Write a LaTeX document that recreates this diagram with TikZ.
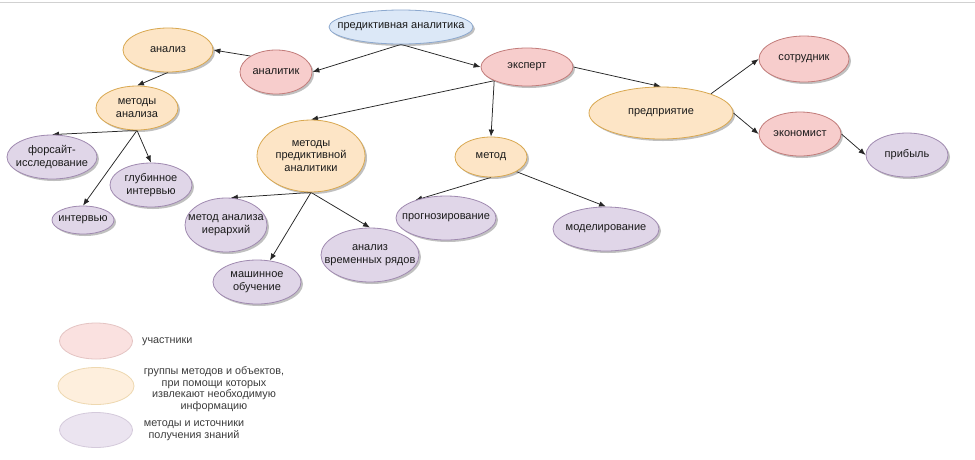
\documentclass[tikz,border=0pt]{standalone}
\usepackage{fontspec}
\setmainfont{Liberation Sans}
\usetikzlibrary{shapes.geometric,arrows.meta,shadows,backgrounds}
\definecolor{pkF}{HTML}{F7CDCC}
\definecolor{pkD}{HTML}{C27C7A}
\definecolor{orF}{HTML}{FDE5C6}
\definecolor{orD}{HTML}{D9A850}
\definecolor{puF}{HTML}{E0D6E8}
\definecolor{puD}{HTML}{A08AB0}
\definecolor{blF}{HTML}{DCE8F7}
\definecolor{blD}{HTML}{8DA9CF}
\definecolor{txt}{HTML}{1A1A1A}
\begin{document}
\begin{tikzpicture}[x=1pt,y=-1pt,
  base/.style={ellipse, draw, line width=0.8pt, inner xsep=-60pt, inner ysep=-30pt,
    align=center, text=txt, font=\fontsize{11}{12.5}\selectfont,
    drop shadow={shadow xshift=2pt, shadow yshift=-2pt, opacity=0.35, fill=black!70}},
  pk/.style={base, fill=pkF, draw=pkD},
  org/.style={base, fill=orF, draw=orD},
  pur/.style={base, fill=puF, draw=puD},
  blu/.style={base, fill=blF, draw=blD},
  sz/.style 2 args={minimum width=#1pt, minimum height=#2pt},
  lgd/.style={ellipse, line width=0.8pt, inner sep=0pt},
  lgtext/.style={text=txt!85, font=\fontsize{10.8}{11.6}\selectfont, align=center, inner sep=0pt},
  arr/.style={draw=black!85, line width=0.75pt, -{Latex[length=7pt,width=5.5pt]}}
]
\useasboundingbox (0,0) rectangle (975,459);

% nodes
\node[blu, sz={144}{34}] (pa) at (401,27) {предиктивная аналитика};
\node[org, sz={90}{44}] (analiz) at (168,50) {анализ};
\node[pk, sz={72}{44}] (analitik) at (276,72) {аналитик};
\node[pk, sz={92}{38}] (ekspert) at (527,67) {эксперт};
\node[org, sz={144}{52}] (pred) at (661,113) {предприятие};
\node[pk, sz={90}{46}] (sotr) at (804,59) {сотрудник};
\node[pk, sz={82}{44}] (ekon) at (800,134) {экономист};
\node[pur, sz={82}{44}] (prib) at (907,155) {прибыль};
\node[org, sz={82}{44}] (ma) at (137,108) {методы\\анализа};
\node[pur, sz={90}{44}] (fors) at (52,157) {форсайт-\\исследование};
\node[pur, sz={82}{44}] (glub) at (151,185) {глубинное\\интервью};
\node[pur, sz={62}{28}] (interv) at (83,220) {интервью};
\node[org, sz={108}{72}] (mpa) at (311,156) {методы\\предиктивной\\аналитики};
\node[org, sz={72}{40}] (metod) at (491,157) {метод};
\node[pur, sz={82}{54}] (mai) at (226,225) {метод анализа\\иерархий};
\node[pur, sz={88}{44}] (mash) at (257,282) {машинное\\обучение};
\node[pur, sz={98}{54}] (avr) at (370,255) {анализ\\временных рядов};
\node[pur, sz={100}{44}] (prog) at (446,218) {прогнозирование};
\node[pur, sz={106}{44}] (model) at (606,229) {моделирование};

% legend
\node[lgd, fill=pkF!60, draw=pkD!45, sz={73}{36}] (lg1) at (96,341) {};
\node[lgd, fill=orF!60, draw=orD!45, sz={76}{37}] (lg2) at (96,386) {};
\node[lgd, fill=puF!65, draw=puD!45, sz={73}{35}] (lg3) at (96,430) {};
\node[lgtext, anchor=west] (lt1) at (142,342) {участники};
\node[lgtext] (lt2) at (214,389) {группы методов и объектов,\\при помощи которых\\извлекают необходимую\\информацию};
\node[lgtext] (lt3) at (194,431) {методы и источники\\получения знаний};

% connectors
\begin{scope}[on background layer]
\fill[white] (0,0) rectangle (975,459);
\draw[black!18, line width=1pt] (0,2) -- (975,2);
\draw[arr] (pa.south) -- (analitik.east);
\draw[arr] (pa.south) -- (ekspert.west);
\draw[arr] (analitik.148) -- (analiz.east);
\draw[arr] (analiz.south) -- (ma.north);
\draw[arr] (ma.south) -- (fors.north);
\draw[arr] (ma.south) -- (interv.north);
\draw[arr] (ma.south) -- (glub.north);
\draw[arr] (ekspert.south west) -- (mpa.north);
\draw[arr] (ekspert.south west) -- (metod.north);
\draw[arr] (ekspert.east) -- (pred.north);
\draw[arr] (pred.21) -- (sotr.west);
\draw[arr] (pred.east) -- (ekon.west);
\draw[arr] (ekon.east) -- (prib.west);
\draw[arr] (mpa.south) -- (mai.80);
\draw[arr] (mpa.south) -- (mash);
\draw[arr] (mpa.south) -- (avr.north);
\draw[arr] (metod.south) -- (prog.150);
\draw[arr] (metod.330) -- (model.north);
\end{scope}
\end{tikzpicture}
\end{document}
